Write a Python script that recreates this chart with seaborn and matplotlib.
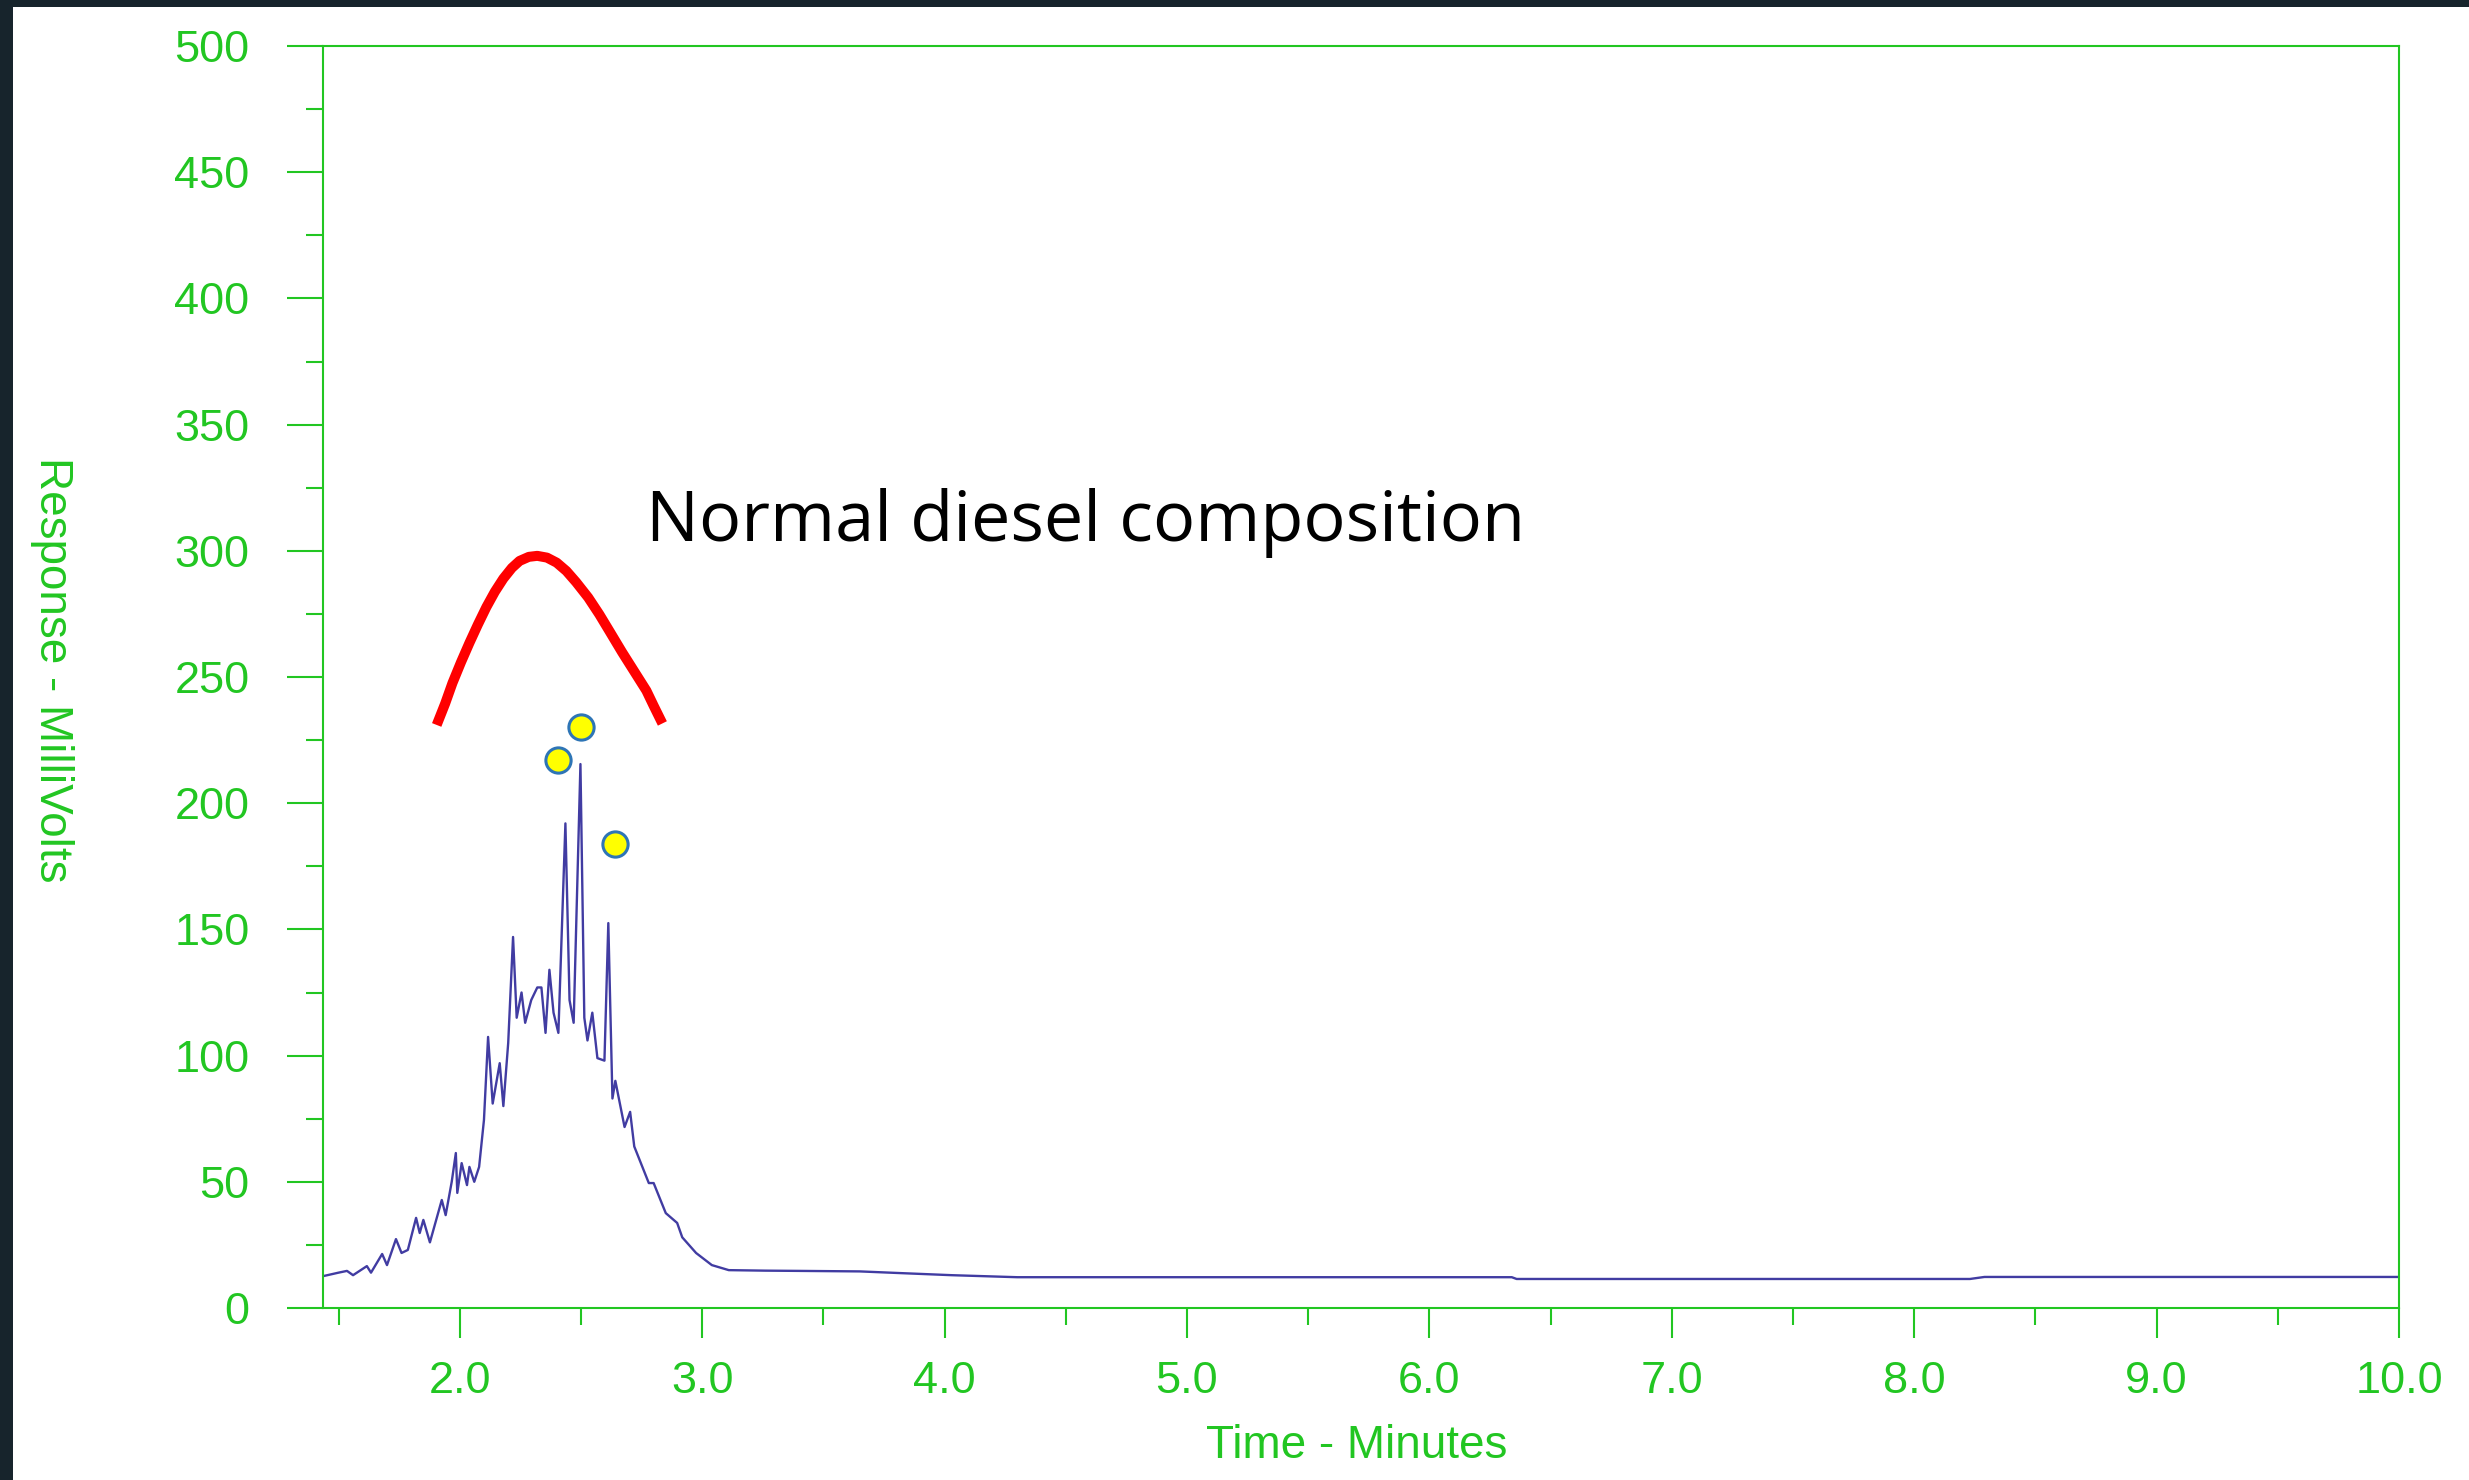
import matplotlib
matplotlib.use("Agg")
import matplotlib.pyplot as plt
from matplotlib.patches import Rectangle
from matplotlib.ticker import MultipleLocator
import seaborn as sns
import pandas as pd

# chromatogram trace (minutes, millivolts)
time_min = [1.44, 1.50, 1.535, 1.56, 1.617, 1.634, 1.68, 1.70, 1.737, 1.76,
            1.786, 1.82, 1.835, 1.85, 1.877, 1.926, 1.942, 1.967, 1.984, 1.99,
            2.008, 2.03, 2.04, 2.06, 2.08, 2.10, 2.117, 2.136, 2.165, 2.18,
            2.20, 2.22, 2.235, 2.255, 2.27, 2.295, 2.32, 2.337, 2.354, 2.37,
            2.387, 2.407, 2.436, 2.453, 2.47, 2.498, 2.514, 2.527, 2.547, 2.568,
            2.597, 2.613, 2.63, 2.642, 2.68, 2.703, 2.72, 2.78, 2.80, 2.85,
            2.897, 2.918, 2.975, 3.04, 3.11, 3.26, 3.40, 3.65, 3.80, 4.03,
            4.30, 6.34, 6.36, 8.23, 8.29, 10.0]
response_mv = [12.7, 14.0, 14.7, 13.0, 16.6, 14.0, 21.4, 17.0, 27.3, 21.8,
               23.0, 35.7, 29.7, 34.9, 26.0, 42.8, 36.8, 50.0, 61.4, 45.6,
               57.4, 48.7, 55.9, 50.0, 55.9, 74.5, 107.4, 81.0, 97.0, 80.0,
               105.0, 147.0, 115.0, 125.0, 113.0, 122.0, 127.0, 127.0, 109.0, 134.0,
               117.0, 109.0, 192.0, 122.0, 113.0, 215.5, 115.0, 106.0, 117.0, 99.0,
               98.0, 152.5, 83.0, 90.0, 71.7, 77.7, 64.0, 49.5, 49.5, 37.6,
               33.7, 28.0, 21.8, 17.0, 15.0, 14.8, 14.7, 14.5, 13.9, 13.0,
               12.2, 12.2, 11.5, 11.5, 12.3, 12.3]

# red hand-drawn envelope
arc_x = [1.905, 1.94, 1.97, 2.005, 2.04, 2.075, 2.11, 2.145, 2.18, 2.215, 2.247, 2.285,
         2.32, 2.36, 2.40, 2.44, 2.48, 2.53, 2.576, 2.62, 2.67, 2.72, 2.77, 2.80, 2.836]
arc_y = [231, 239.5, 247.6, 255.8, 263.5, 270.8, 277.7, 283.8, 289, 293.2, 296, 297.6,
         298, 297.3, 295.3, 292, 287.6, 281.5, 274.8, 267.8, 259.8, 252.2, 244.6, 238.6, 231.6]

# yellow markers above the main peaks
dot_x = [2.407, 2.50, 2.642]
dot_y = [217, 230, 184]

label_text = "Normal diesel composition"
green = "#22c622"

sns.set_theme(style="white")
plt.rcParams["font.family"] = ["Liberation Sans", "DejaVu Sans"]

fig = plt.figure(figsize=(24.69, 14.80), dpi=100)
fig.patch.set_facecolor("#17242c")
fig.patches.append(Rectangle((13 / 2469, 0), 1, 1 - 7 / 1480, transform=fig.transFigure,
                             facecolor="white", edgecolor="none", zorder=-10))

ax = fig.add_axes([323 / 2469, 1 - 1308 / 1480, (2399 - 323) / 2469, (1308 - 46) / 1480])
ax.set_facecolor("white")

trace = pd.DataFrame({"t": time_min, "mv": response_mv})
sns.lineplot(data=trace, x="t", y="mv", ax=ax, color="#413ca2", linewidth=1.7,
             estimator=None, sort=False)

arc = pd.DataFrame({"t": arc_x, "mv": arc_y})
sns.lineplot(data=arc, x="t", y="mv", ax=ax, color="#ff0000", linewidth=7.2,
             estimator=None, sort=False, solid_capstyle="butt", solid_joinstyle="round")

dots = pd.DataFrame({"t": dot_x, "mv": dot_y})
sns.scatterplot(data=dots, x="t", y="mv", ax=ax, s=330, color="#ffff00",
                edgecolor="#2e75b6", linewidth=2.2, zorder=5)

ax.text(2.77, 311, label_text, family=["Open Sans", "DejaVu Sans"], fontsize=50.7,
        color="black", ha="left", va="center")

ax.set_xlim(1.436, 10.0)
ax.set_ylim(0, 500)
ax.xaxis.set_major_locator(MultipleLocator(1.0))
ax.xaxis.set_minor_locator(MultipleLocator(0.5))
ax.yaxis.set_major_locator(MultipleLocator(50))
ax.yaxis.set_minor_locator(MultipleLocator(25))
ax.xaxis.set_major_formatter(plt.FuncFormatter(lambda v, p: f"{v:.1f}"))

for s in ax.spines.values():
    s.set_visible(True)
    s.set_color(green)
    s.set_linewidth(1.5)

ax.tick_params(axis="x", which="major", direction="out", length=21.5, width=1.5,
               color=green, labelcolor=green, labelsize=32.5, pad=17, bottom=True)
ax.tick_params(axis="x", which="minor", direction="out", length=12, width=1.5,
               color=green, bottom=True)
ax.tick_params(axis="y", which="major", direction="out", length=26, width=1.5,
               color=green, labelcolor=green, labelsize=32.5, pad=27, left=True)
ax.tick_params(axis="y", which="minor", direction="out", length=12, width=1.5,
               color=green, left=True)

ax.set_xlabel("Time - Minutes", color=green, fontsize=33)
ax.set_ylabel("Response - MilliVolts", color=green, fontsize=33, rotation=270)
ax.xaxis.set_label_coords(0.498, -0.109)
ax.yaxis.set_label_coords(-0.1305, 0.506)
ax.xaxis.label.set_va("center")
ax.yaxis.label.set_va("center")

fig.savefig("out.png", dpi=100, facecolor=fig.get_facecolor())
